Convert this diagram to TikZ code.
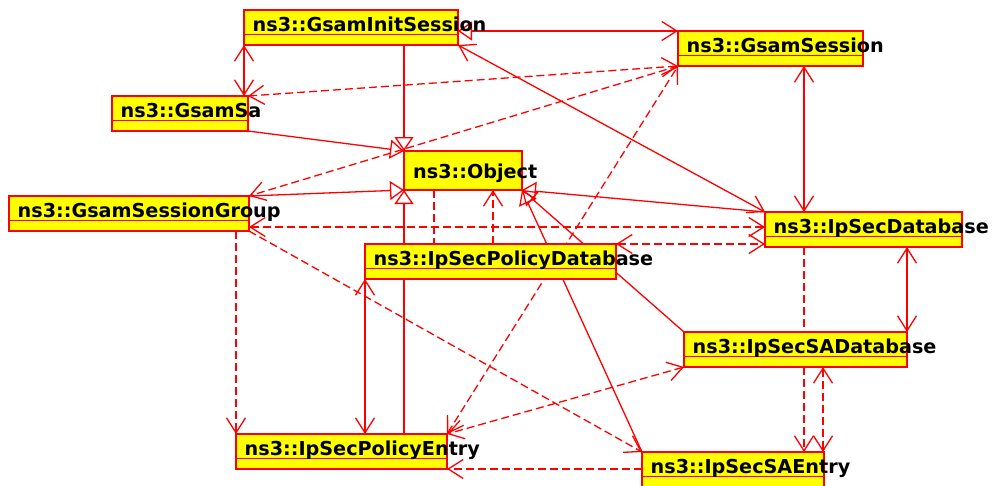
\documentclass[tikz,border=0pt]{standalone}
\usepackage{fontspec}
\newfontfamily\clsfont{DejaVu Sans}
\usetikzlibrary{arrows.meta,calc}
\definecolor{umlred}{RGB}{255,0,0}
\definecolor{umlyellow}{RGB}{255,255,0}
\pgfdeclarelayer{links}
\pgfsetlayers{links,main}
\tikzset{
  barb/.tip={Straight Barb[length=15pt,width=19pt]},
  hollow/.tip={Triangle[open,length=14pt,width=19pt]},
  link/.style={draw=umlred, line width=1.3pt},
  dep/.style={link, dash pattern=on 8pt off 4pt},
  clsbox/.style={draw=umlred, fill=umlyellow, line width=1.2pt, inner sep=0pt, outer sep=0pt, minimum height=35pt},
  clsline/.style={draw=umlred, line width=1.2pt},
  clstitle/.style={font=\clsfont\bfseries\fontsize{19.2}{23}\selectfont, text=black, inner sep=0pt},
}
% class box: name, left, top, width, title
\newcommand\umlcls[5]{%
  \node[clsbox, minimum width=#4pt, anchor=north west] (#1) at (#2,#3) {};
  \draw[clsline] ([yshift=-24.5pt]#1.north west) -- ([yshift=-24.5pt]#1.north east);
  \node[clstitle, anchor=base west] (#1-t) at ([xshift=8.5pt,yshift=-21.5pt]#1.north west) {#5};
}
\begin{document}
\begin{tikzpicture}[x=1pt,y=-1pt]
\useasboundingbox (0,0) rectangle (993,485);

% classes
\umlcls{gis}{244}{10}{214}{ns3::GsamInitSession}
\umlcls{gs}{678}{31}{185}{ns3::GsamSession}
\umlcls{gsa}{112}{96}{136}{ns3::GsamSa}
\umlcls{gsg}{9}{196}{240}{ns3::GsamSessionGroup}
\node[clsbox, minimum width=118pt, minimum height=39pt, anchor=north west] (obj) at (404,151) {};
\node[clstitle, anchor=base west] (obj-t) at ([xshift=9pt,yshift=-27pt]obj.north west) {ns3::Object};
\umlcls{pdb}{365}{244}{251}{ns3::IpSecPolicyDatabase}
\umlcls{idb}{765}{212}{197}{ns3::IpSecDatabase}
\umlcls{sadb}{684}{332}{223}{ns3::IpSecSADatabase}
\umlcls{pe}{236}{434}{211}{ns3::IpSecPolicyEntry}
\umlcls{sae}{642}{452}{182}{ns3::IpSecSAEntry}

\begin{pgfonlayer}{links}
% generalisations towards ns3::Object
\draw[link, -hollow] (obj.north west |- gis.south) -- (obj.north west);
\draw[link, -hollow] (gsa.south east) -- (obj.north west);
\draw[link, -hollow] (gsg.north east) -- (obj.south west);
\draw[link, -hollow] (obj.south west |- pe.north) -- (obj.south west);
\draw[link, -hollow] (idb.north west) -- (obj.south east);
\draw[link, -hollow] (sadb.north west) -- (obj.south east);
\draw[link, -hollow] (sae.north west) -- (obj.south east);

% associations
\draw[link, hollow-barb] (gis.east |- gs.north) -- (gs.north west);
\draw[link, barb-barb] (gis.south west) -- (gis.south west |- gsa.north);
\draw[link, barb-barb] ($(gs.south west)+(126,0)$) -- ($(gs.south west |- idb.north)+(126,0)$);
\draw[link, barb-barb] (gis.south east) -- (idb.north west);
\draw[link, barb-barb] (pdb.south west) -- (pdb.south west |- pe.north);
\draw[link, barb-barb] (sadb.north east |- idb.south) -- (sadb.north east);

% dependencies
\draw[dep, barb-barb] (gs.south west) -- (gsa.north east);
\draw[dep, -barb] (gs.south west) -- (gsg.north east);
\draw[dep, barb-barb] ($(gsg.south east)+(0,-4)$) -- ($(gsg.south east -| idb.west)+(0,-4)$);
\draw[dep, barb-barb] (pdb.north east) -- (pdb.north east -| idb.west);
\draw[dep] ($(obj.south west)+(30,0)$) -- ($(obj.south west |- pdb.north)+(30,0)$);
\draw[dep, -barb] ($(obj.south west |- pdb.north)+(89,0)$) -- ($(obj.south west)+(89,0)$);
\draw[dep, -barb] (pe.north west |- gsg.south) -- (pe.north west);
\draw[dep, -barb] (gsg.south east) -- (sae.north west);
\draw[dep, barb-barb] (pe.north east) -- (gs.south west);
\draw[dep, barb-barb] (sadb.south west) -- (pe.north east);
\draw[dep, -barb] (sae.west |- pe.south) -- (pe.south east);
\draw[dep, -barb] ($(idb.south west)+(39,0)$) -- ($(idb.south west |- sae.north)+(39,0)$);
\draw[dep, barb-barb] ($(sadb.south west)+(139,0)$) -- ($(sadb.south west |- sae.north)+(139,0)$);
\end{pgfonlayer}
\end{tikzpicture}
\end{document}
